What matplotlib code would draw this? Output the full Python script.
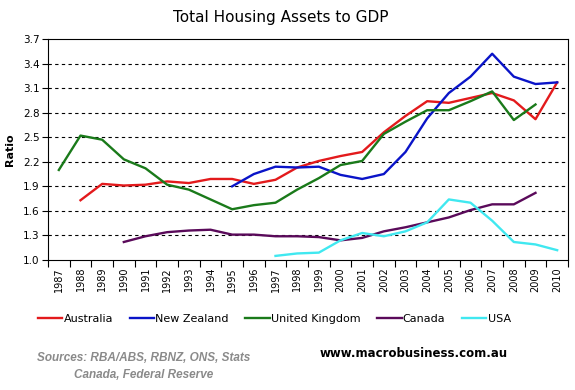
import numpy as np
import matplotlib
matplotlib.use('Agg')
import matplotlib.pyplot as plt
from matplotlib.ticker import FixedLocator

# --- data ---
years = list(range(1987, 2011))

australia = [None, 1.73, 1.93, 1.91, 1.92, 1.96, 1.94, 1.99, 1.99, 1.93, 1.98, 2.13,
             2.21, 2.27, 2.32, 2.56, 2.76, 2.94, 2.92, 2.98, 3.04, 2.95, 2.72, 3.17]
new_zealand = [None] * 8 + [1.90, 2.05, 2.14, 2.13, 2.14, 2.04, 1.99, 2.05, 2.32, 2.73,
                            3.04, 3.24, 3.52, 3.24, 3.15, 3.17]
united_kingdom = [2.10, 2.52, 2.47, 2.23, 2.12, 1.92, 1.86, 1.74, 1.62, 1.67, 1.70, 1.86,
                  2.00, 2.16, 2.21, 2.54, 2.69, 2.83, 2.83, 2.94, 3.06, 2.71, 2.90, None]
canada = [None] * 3 + [1.22, 1.29, 1.34, 1.36, 1.37, 1.31, 1.31, 1.29, 1.29,
                       1.28, 1.24, 1.27, 1.35, 1.40, 1.46, 1.52, 1.61, 1.68, 1.68, 1.82, None]
usa = [None] * 10 + [1.05, 1.08, 1.09, 1.24, 1.33, 1.29, 1.35, 1.46, 1.74, 1.70,
                     1.48, 1.22, 1.19, 1.12]

series = [
    ("Australia", australia, "#e31a1c"),
    ("New Zealand", new_zealand, "#0a14c8"),
    ("United Kingdom", united_kingdom, "#1a7a1a"),
    ("Canada", canada, "#5a0a5a"),
    ("USA", usa, "#40e8f0"),
]

y_ticks = [1.0, 1.3, 1.6, 1.9, 2.2, 2.5, 2.8, 3.1, 3.4, 3.7]

# --- figure ---
fig = plt.figure(figsize=(5.75, 3.9), dpi=100)
ax = fig.add_axes([48 / 575, 130 / 390, 520 / 575, 221 / 390])

x = np.arange(len(years))
for name, vals, col in series:
    y = np.array([np.nan if v is None else v for v in vals], dtype=float)
    ax.plot(x, y, color=col, linewidth=1.7, label=name)

ax.set_xlim(-0.5, len(years) - 0.5)
ax.set_ylim(1.0, 3.7)
ax.set_yticks(y_ticks)
ax.set_yticklabels([f"{v:.1f}" for v in y_ticks], fontsize=7.5)
for v in y_ticks[1:-1]:
    ax.axhline(v, color='black', linestyle=(0, (3, 3)), linewidth=0.8, zorder=0)

ax.set_xticks(x)
ax.set_xticklabels([str(yr) for yr in years], rotation=90, fontsize=7)
ax.xaxis.set_minor_locator(FixedLocator(np.arange(-0.5, len(years), 1.0)))
ax.tick_params(axis='x', which='major', length=0, pad=5)
ax.tick_params(axis='x', which='minor', length=5, width=0.8, direction='out')
ax.tick_params(axis='y', length=4, width=0.8, pad=2)
for s in ax.spines.values():
    s.set_linewidth(0.8)

ax.set_ylabel("Ratio", fontsize=8, fontweight='bold', labelpad=6)

fig.text(0.489, 0.955, "Total Housing Assets to GDP", ha='center', va='center', fontsize=11)

fig.legend(loc='center', bbox_to_anchor=(0.477, 0.182), ncol=5, frameon=False,
           fontsize=8, handlelength=2.2, handletextpad=0.1, columnspacing=1.5)

fig.text(0.065, 0.083, "Sources: RBA/ABS, RBNZ, ONS, Stats", family='Liberation Sans',
         style='italic', fontweight='bold', color='#8a8a8a', fontsize=8.5, va='center')
fig.text(0.128, 0.038, "Canada, Federal Reserve", family='Liberation Sans',
         style='italic', fontweight='bold', color='#8a8a8a', fontsize=8.5, va='center')
fig.text(0.555, 0.093, "www.macrobusiness.com.au", fontweight='bold', fontsize=8.5,
         va='center', ha='left')

fig.savefig("out.png", dpi=100)
